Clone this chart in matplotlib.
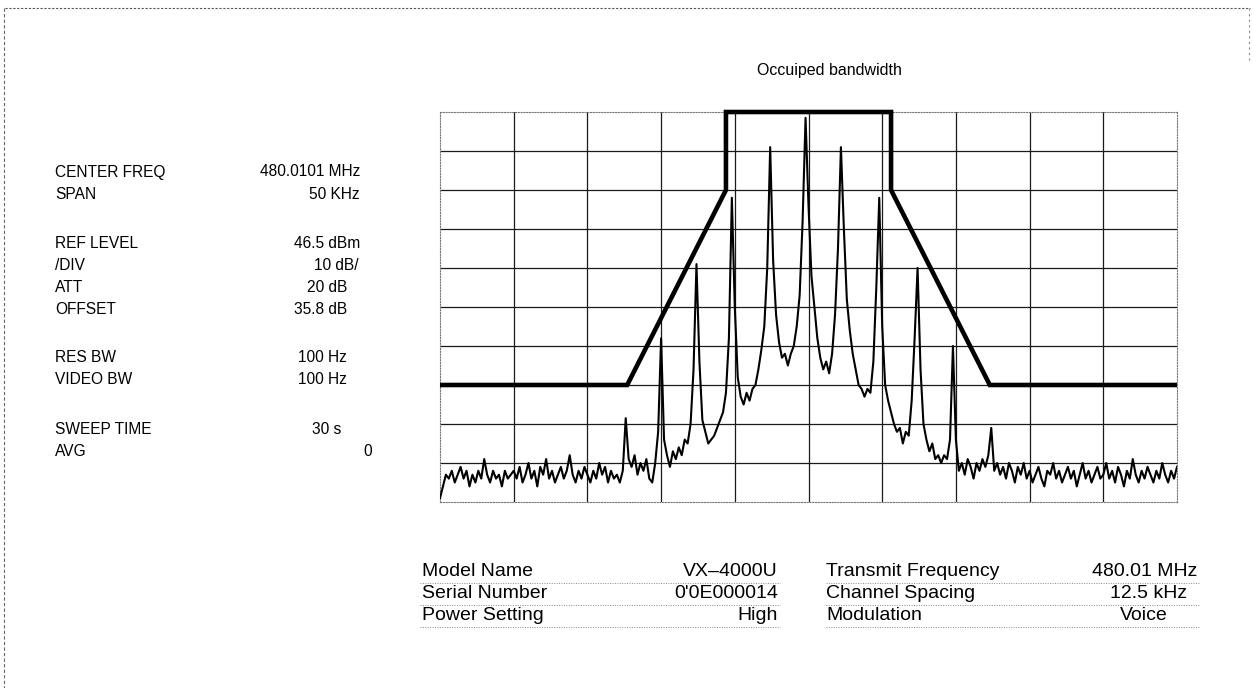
import numpy as np
import matplotlib
matplotlib.use("Agg")
import matplotlib.pyplot as plt
from matplotlib.lines import Line2D

# ---------------- data ----------------
title = "Occuiped bandwidth"

setting_labels = ["CENTER FREQ", "SPAN", "REF LEVEL", "/DIV", "ATT", "OFFSET",
                  "RES BW", "VIDEO BW", "SWEEP TIME", "AVG"]
setting_values = ["480.0101 MHz", "50 KHz", "46.5 dBm", "10 dB/", "20 dB", "35.8 dB",
                  "100 Hz", "100 Hz", "30 s", "0"]

info_left_labels = ["Model Name", "Serial Number", "Power Setting"]
info_left_values = ["VX\u20134000U", "0'0E000014", "High"]
info_right_labels = ["Transmit Frequency", "Channel Spacing", "Modulation"]
info_right_values = ["480.01 MHz", "12.5 kHz", "Voice"]

span_khz = 50.0
div_db = 10.0

# measured trace, dB relative to reference level, 0.2 kHz steps from -25 to +25 kHz
level_db = [
    # -25.0 .. -20.2
    -99, -96, -93, -94, -92, -95, -93, -91, -94, -92, -96, -93, -95, -92, -94, -89, -93, -95, -92, -94, -93, -96, -92, -94, -93,
    # -20.0 .. -15.2
    -92, -94, -91, -95, -93, -90, -94, -92, -96, -91, -93, -89, -94, -92, -95, -93, -91, -94, -92, -88, -93, -95, -92, -94, -91,
    # -15.0 .. -10.2
    -93, -95, -92, -94, -90, -93, -91, -95, -92, -94, -93, -95, -92, -78.5, -89, -91, -88, -93, -90, -92, -89, -94, -95, -90, -82,
    # -10.0 .. -5.2
    -58, -84, -88, -91, -87, -89, -86, -88, -84, -85, -80, -66, -39, -64, -79, -82, -85, -84, -83, -81, -79, -77, -72, -58, -22,
    # -5.0 .. -0.2
    -50, -68, -73, -75, -72, -74, -71, -70, -66, -61, -55, -40, -9, -38, -52, -59, -63, -62, -65, -62, -60, -55, -47, -28, -1.5,
    # 0.0 .. 4.8
    -24, -42, -50, -58, -63, -66, -64, -67, -62, -52, -35, -9, -30, -48, -56, -62, -66, -70, -71, -73, -71, -72, -64, -45, -22,
    # 5.0 .. 9.8
    -55, -70, -74, -77, -80, -82, -81, -85, -82, -83, -74, -58, -40, -66, -80, -84, -87, -85, -89, -88, -90, -88, -89, -84, -60,
    # 10.0 .. 14.8
    -84, -92, -90, -93, -89, -91, -94, -90, -92, -89, -91, -88, -81, -92, -90, -93, -91, -94, -90, -92, -95, -91, -93, -90, -94,
    # 15.0 .. 19.8
    -92, -95, -93, -91, -94, -96, -92, -93, -90, -94, -92, -95, -93, -91, -94, -92, -96, -93, -90, -94, -92, -95, -93, -91, -94,
    # 20.0 .. 25.0
    -93, -90, -94, -92, -95, -91, -93, -96, -92, -94, -89, -93, -95, -92, -94, -91, -93, -95, -92, -94, -90, -93, -95, -92, -94, -91,
]

# emission mask
mask_freq_khz = [-25.0, -12.3, -5.6, -5.6, 5.6, 5.6, 12.3, 25.0]
mask_db = [-70, -70, -20, 0, 0, -20, -70, -70]

# ---------------- figure ----------------
W, H = 1253, 688
fig = plt.figure(figsize=(W / 100, H / 100), dpi=100)
fig.patch.set_facecolor("white")


def fx(x):
    return x / W


def fy(y):
    return 1 - y / H


FONT = ["Liberation Sans", "DejaVu Sans"]

ax = fig.add_axes([fx(440), fy(502), (1177 - 440) / W, (502 - 112) / H])
freq_khz = np.linspace(-span_khz / 2, span_khz / 2, len(level_db))

ax.plot(freq_khz, level_db, color="black", lw=1.5, zorder=3, solid_joinstyle="round")
ax.plot(mask_freq_khz, mask_db, color="black", lw=3.3, zorder=4, clip_on=False,
        solid_capstyle="butt", solid_joinstyle="miter")

ax.set_xlim(-span_khz / 2, span_khz / 2)
ax.set_ylim(-10 * div_db, 0)
ax.set_xticks(np.arange(-20, 21, 5))
ax.set_yticks(np.arange(-90, -9, 10))
ax.tick_params(length=0, labelbottom=False, labelleft=False)
ax.grid(True, color="#1a1a1a", lw=0.9, zorder=1)
for s in ax.spines.values():
    s.set_color("#777777")
    s.set_linestyle((0, (1, 1.5)))
    s.set_linewidth(0.8)

# title
fig.text(fx(829), fy(70), title, ha="center", va="center", fontsize=11.5, family=FONT)

# left settings panel
label_y = [172, 194, 243, 265, 287, 309, 358, 380, 429, 451]
value_right = [360, 360, 360, 358, 347, 347, 347, 347, 341, 372]
for lab, val, y, xr in zip(setting_labels, setting_values, label_y, value_right):
    fig.text(fx(55), fy(y), lab, ha="left", va="center", fontsize=11.2, family=FONT)
    fig.text(fx(xr), fy(y), val, ha="right", va="center", fontsize=11.2, family=FONT)

# bottom info table
row_y = [572, 594, 616]
left_val_right = [778, 778, 778]
right_val_right = [1197, 1187, 1168]
TS = 14
for i, y in enumerate(row_y):
    fig.text(fx(422), fy(y), info_left_labels[i], ha="left", va="center", fontsize=TS, family=FONT)
    fig.text(fx(left_val_right[i]), fy(y), info_left_values[i], ha="right", va="center", fontsize=TS, family=FONT)
    fig.text(fx(826), fy(y), info_right_labels[i], ha="left", va="center", fontsize=TS, family=FONT)
    fig.text(fx(right_val_right[i]), fy(y), info_right_values[i], ha="right", va="center", fontsize=TS, family=FONT)
    uy = y + 11
    fig.add_artist(Line2D([fx(420), fx(780)], [fy(uy), fy(uy)], color="#888888", lw=0.7, ls=(0, (1, 1.5))))
    fig.add_artist(Line2D([fx(826), fx(1200)], [fy(uy), fy(uy)], color="#888888", lw=0.7, ls=(0, (1, 1.5))))

# page border (scanned frame)
fig.add_artist(Line2D([fx(5), fx(1250)], [fy(8), fy(8)], color="#555555", lw=0.8, ls=(0, (2, 1.5))))
fig.add_artist(Line2D([fx(4), fx(4)], [fy(8), fy(688)], color="#666666", lw=0.8, ls=(0, (3, 2))))
fig.add_artist(Line2D([fx(1249), fx(1249)], [fy(8), fy(60)], color="#888888", lw=0.8, ls=(0, (2, 3))))

fig.savefig("out.png", dpi=100, facecolor="white")
